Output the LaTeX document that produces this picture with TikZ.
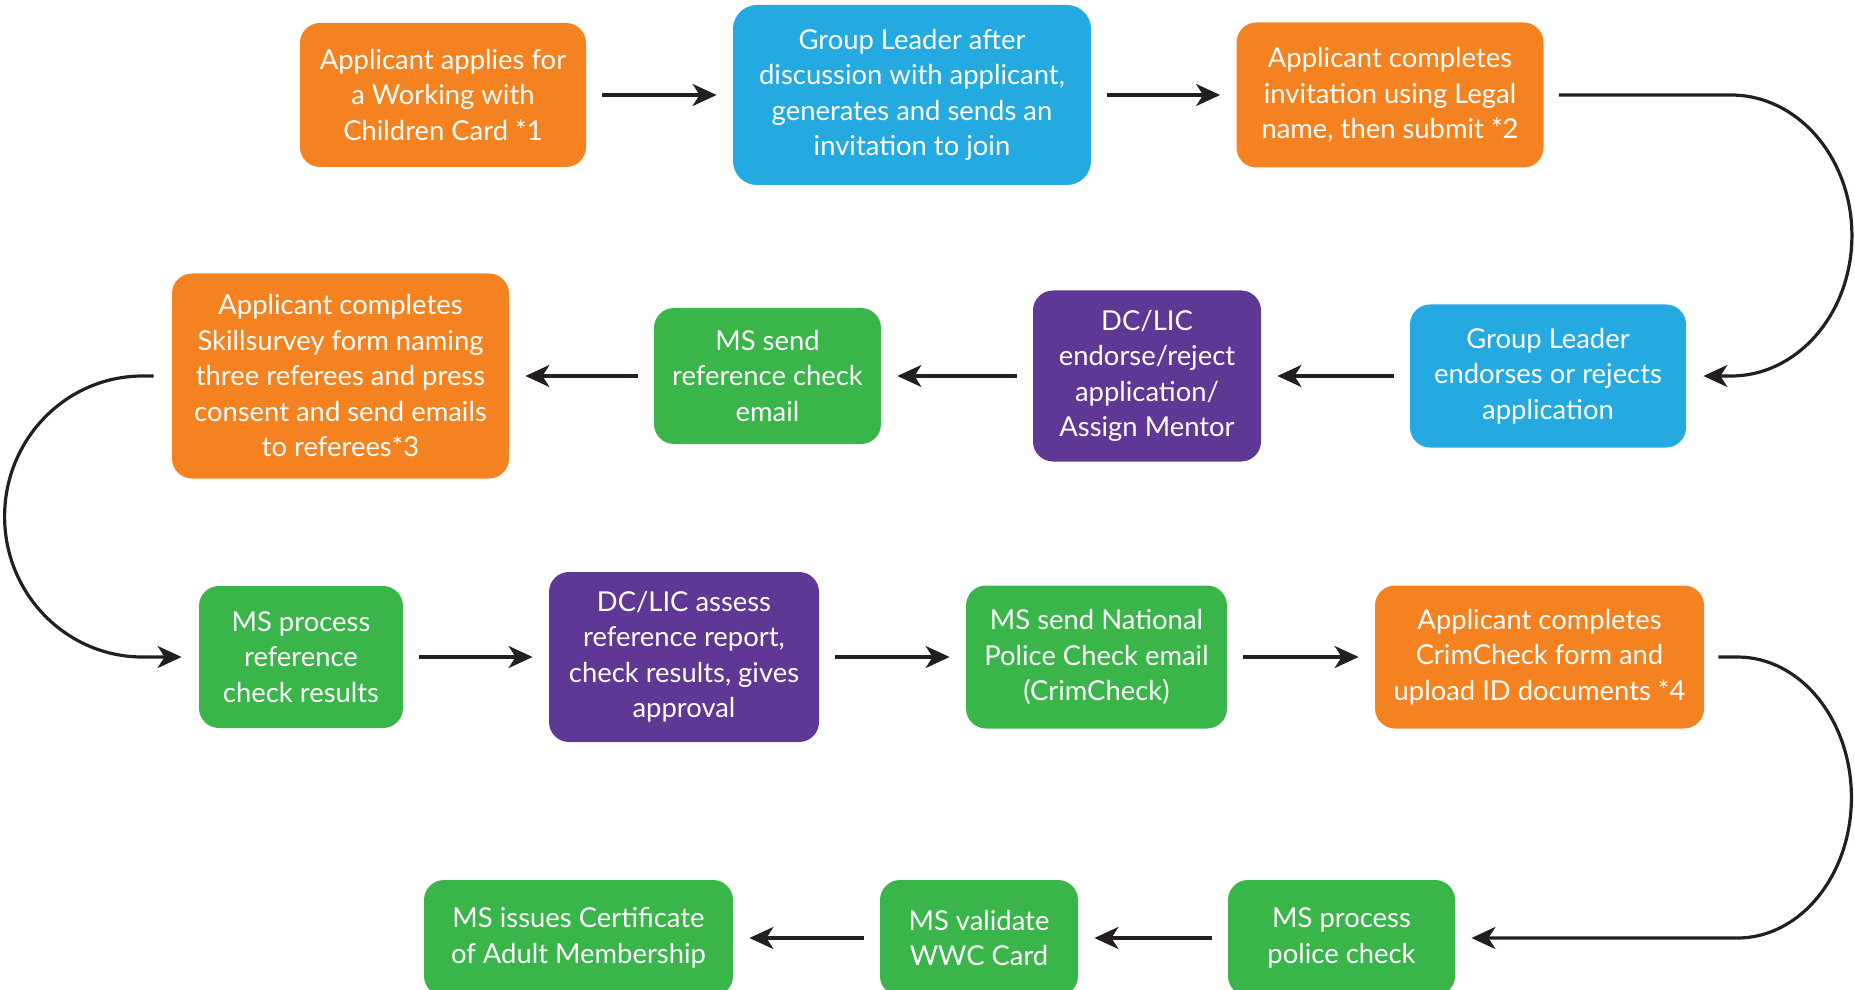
\documentclass[tikz,border=0pt]{standalone}
\usepackage{fontspec}
\setmainfont{Lato}
\usepackage{tikz}
\usetikzlibrary{arrows.meta,positioning}
\usepackage{xcolor}
\definecolor{forange}{HTML}{F58220}
\definecolor{fblue}{HTML}{24A9E1}
\definecolor{fpurple}{HTML}{5F3795}
\definecolor{fgreen}{HTML}{3AB54A}
\definecolor{fline}{HTML}{231F20}
\tikzset{
  block/.style   = {rectangle, rounded corners=10pt, text=white, align=center,
                    inner sep=2pt},
  appl/.style    = {block, fill=forange},
  leader/.style  = {block, fill=fblue},
  dist/.style    = {block, fill=fpurple},
  ms/.style      = {block, fill=fgreen},
  sig/.style     = {-{Stealth[length=12pt,width=11pt,inset=3.5pt]}, line width=1.6pt,
                    draw=fline, shorten <=8pt, shorten >=8pt},
  loop/.style    = {-{Stealth[length=12pt,width=11pt,inset=3.5pt]}, line width=1.6pt,
                    draw=fline},
}
\begin{document}
\begin{tikzpicture}[x=0.5pt,y=-0.5pt,font=\fontsize{13.7}{17.75}\selectfont]
\useasboundingbox (0,0) rectangle (1855,989);
\clip (0,0) rectangle (1855,989);
% row 1
\node[appl,minimum width=143pt,minimum height=72pt] (wwc) at (443,95)
  {Applicant applies for\\a Working with\\Children Card *1};
\node[leader,minimum width=179pt,minimum height=90pt,rounded corners=12pt] (invite) at (912,95)
  {Group Leader after\\discussion with applicant,\\generates and sends an\\invitation to join};
\node[appl,minimum width=153.5pt,minimum height=72.5pt] (complete) at (1390,95)
  {Applicant completes\\invitation using Legal\\name, then submit *2};
% row 2
\node[leader,minimum width=138pt,minimum height=71.5pt] (endorse) at (1548,376)
  {Group Leader\\endorses or rejects\\application};
\node[dist,minimum width=114pt,minimum height=85.5pt] (assign) at (1147,376)
  {DC/LIC\\endorse/reject\\application/\\Assign Mentor};
\node[ms,minimum width=113.5pt,minimum height=68pt] (refmail) at (767.5,376)
  {MS send\\reference check\\email};
\node[appl,minimum width=168.5pt,minimum height=102.5pt] (skill) at (340.5,376)
  {Applicant completes\\Skillsurvey form naming\\three referees and press\\consent and send emails\\to referees*3};
% row 3
\node[ms,minimum width=102pt,minimum height=71pt] (refproc) at (301,657)
  {MS process\\reference\\check results};
\node[dist,minimum width=135pt,minimum height=85pt] (assess) at (684,657)
  {DC/LIC assess\\reference report,\\check results, gives\\approval};
\node[ms,minimum width=130.5pt,minimum height=71.5pt] (npc) at (1096.5,657)
  {MS send National\\Police Check email\\(CrimCheck)};
\node[appl,minimum width=164.5pt,minimum height=71.5pt] (crim) at (1539.5,657)
  {Applicant completes\\CrimCheck form and\\upload ID documents *4};
% row 4
\node[ms,minimum width=113.5pt,minimum height=58pt] (police) at (1341.5,938)
  {MS process\\police check};
\node[ms,minimum width=99pt,minimum height=58pt] (validate) at (979,938)
  {MS validate\\WWC Card};
\node[ms,minimum width=154.5pt,minimum height=58pt] (cert) at (578.5,938)
  {MS issues Certificate\\of Adult Membership};
% connectors
\draw[sig] (wwc) -- (invite);
\draw[sig] (invite) -- (complete);
\draw[loop] ([xshift=7.5pt]complete.east) -- ++(172,0)
  arc[start angle=90,end angle=-90,x radius=60.5pt,y radius=70.25pt]
  -- ([xshift=8.5pt]endorse.east);
\draw[sig] (endorse) -- (assign);
\draw[sig] (assign) -- (refmail);
\draw[sig] (refmail) -- (skill);
\draw[loop] ([xshift=-9pt]skill.west) -- ++(-11,0)
  arc[start angle=90,end angle=270,x radius=69pt,y radius=70.25pt]
  -- ([xshift=-8.5pt]refproc.west);
\draw[sig] (refproc) -- (assess);
\draw[sig] (assess) -- (npc);
\draw[sig] (npc) -- (crim);
\draw[loop] ([xshift=7pt]crim.east) -- ++(19,0)
  arc[start angle=90,end angle=-90,x radius=57pt,y radius=70.25pt]
  -- ([xshift=8pt]police.east);
\draw[sig] (police) -- (validate);
\draw[sig] (validate) -- (cert);
\end{tikzpicture}
\end{document}
